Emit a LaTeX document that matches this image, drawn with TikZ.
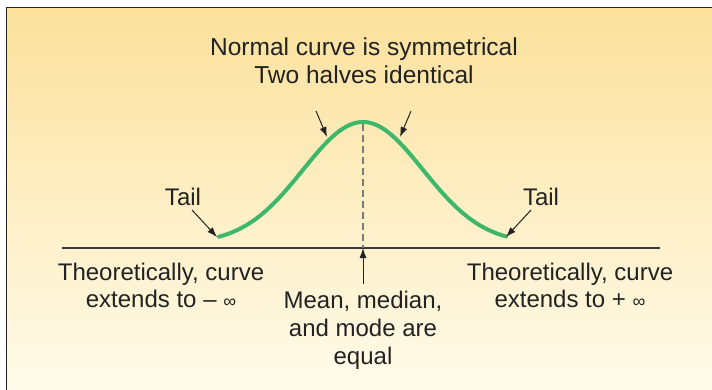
\documentclass[tikz,border=0pt]{standalone}
\usepackage{fontspec}
\setmainfont{Liberation Sans}
\usetikzlibrary{arrows.meta}
\definecolor{txt}{HTML}{222222}
\definecolor{curvegreen}{HTML}{3DB86A}
\definecolor{bgtop}{HTML}{FCE19C}
\definecolor{bgbot}{HTML}{FFFBEA}
\tikzset{
  lbl/.style={text=txt, font=\fontsize{24}{27}\selectfont, align=center, inner sep=0pt},
  pointer/.style={draw=txt, line width=1pt, -{Latex[length=10pt,width=7pt]}},
  axisline/.style={draw=txt!90, line width=1.1pt},
  bell/.style={draw=curvegreen, line width=4pt, line cap=round},
  meanline/.style={draw=txt!60, line width=1.3pt, dash pattern=on 7pt off 4pt}
}
\begin{document}
\begin{tikzpicture}[x=1pt,y=-1pt]
\useasboundingbox (0,0) rectangle (712,390);
\fill[white] (0,0) rectangle (712,390);
\shade[top color=bgtop, bottom color=bgbot] (6,8) rectangle (712,390);
\draw[txt, line width=1pt] (6,390) -- (6,8) -- (712,8);

% axis
\coordinate (axL) at (62,248);
\coordinate (axR) at (660,248);
\draw[axisline] (axL) -- (axR);

% bell curve
\draw[bell] plot[domain=219:506, samples=100, smooth]
  (\x, {237 - 115*(exp(-0.5*((\x-363)/60)^2) - 0.0539)/0.9461});
\coordinate (peak) at (363,124);
\coordinate (axC) at (363,248);
\draw[meanline] (peak) -- (axC);

% labels
\node[lbl, font=\fontsize{24.5}{28}\selectfont] (title) at (364,61) {Normal curve is symmetrical\\Two halves identical};
\node[lbl] (tailL) at (183,197) {Tail};
\node[lbl] (tailR) at (541,197) {Tail};
\node[lbl] (theoL) at (161,285) {Theoretically, curve\\extends to – {\fontsize{18}{27}\selectfont ∞}};
\node[lbl] (theoR) at (570,285) {Theoretically, curve\\extends to + {\fontsize{18}{27}\selectfont ∞}};
\node[lbl, font=\fontsize{24}{28}\selectfont] (mean) at (363,330) {Mean, median,\\and mode are\\equal};

% arrows
\coordinate (symLs) at (316,111);
\coordinate (symLe) at (327,137);
\coordinate (symRs) at (411,111);
\coordinate (symRe) at (400,137);
\draw[pointer] (symLs) -- (symLe);
\draw[pointer] (symRs) -- (symRe);
\coordinate (tLs) at (192,210);
\coordinate (tLe) at (217,237);
\coordinate (tRs) at (531,210);
\coordinate (tRe) at (506,237);
\draw[pointer] (tLs) -- (tLe);
\draw[pointer] (tRs) -- (tRe);
\coordinate (meanS) at (363,284);
\draw[pointer] (meanS) -- (axC);
\end{tikzpicture}
\end{document}
